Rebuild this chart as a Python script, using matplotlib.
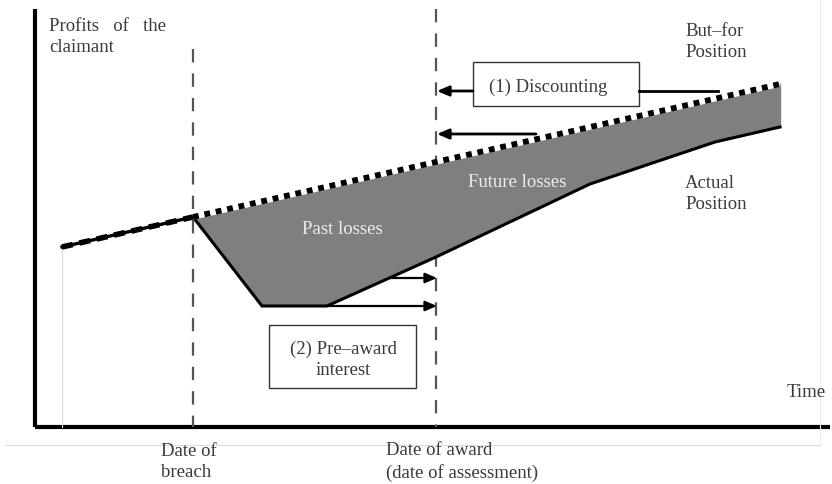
import matplotlib.pyplot as plt
import numpy as np

plt.rcParams['font.family'] = ['Liberation Serif', 'DejaVu Serif']

# diagram coordinates (pixel-like units, y grows downward)
but_for_x = [62, 193, 780]
but_for_y = [248, 218, 85]
actual_x = [193, 262, 327, 436, 590, 715, 780]
actual_y = [218, 307, 307, 258, 185, 143, 128]
breach_x = 193
award_x = 436

# arrows: (x_from, x_to, y)
discount_arrows = [(473, 437, 92), (536, 437, 135)]
interest_arrows = [(390, 437, 279), (327, 437, 307)]

txt = "#3a3a3a"
fs = 13.5
ls = 1.32
fig = plt.figure(figsize=(8.32, 4.85), dpi=100)
ax = fig.add_axes([0, 0, 1, 1])
ax.set_xlim(0, 832)
ax.set_ylim(485, 0)
ax.axis("off")

# axes of the diagram
ax.plot([35, 35], [10, 428], color="black", lw=3, solid_capstyle="butt")
ax.plot([35, 830], [428, 428], color="black", lw=3, solid_capstyle="butt")
ax.plot([62, 62], [250, 428], color="#d8d8d8", lw=0.8)
ax.plot([820, 820], [0, 445], color="#ececec", lw=0.8)
ax.plot([5, 820], [446, 446], color="#dcdcdc", lw=0.8)

# dashed date lines
ax.plot([breach_x, breach_x], [50, 428], color="#555555", lw=1.6, dashes=(6, 5))
ax.plot([award_x, award_x], [10, 428], color="#555555", lw=1.6, dashes=(6, 5))

# losses area
poly_x = np.r_[but_for_x[1:], actual_x[::-1]]
poly_y = np.r_[but_for_y[1:], actual_y[::-1]]
ax.fill(poly_x, poly_y, color="#7f7f7f", zorder=2)
ax.plot([actual_x[-1], actual_x[-1]], [but_for_y[-1], actual_y[-1]], color="#7f7f7f", lw=1, zorder=2)

# actual position
ax.plot(actual_x, actual_y, color="black", lw=2.2, zorder=3, solid_joinstyle="miter")

# but-for position
ax.plot(but_for_x[:2], but_for_y[:2], color="black", lw=2.4, zorder=4)
ax.plot(but_for_x[:2], but_for_y[:2], color="black", lw=4, dashes=(2, 1.2), zorder=4)
ax.plot(but_for_x[1:], but_for_y[1:], color="white", lw=4, zorder=4, solid_capstyle="butt")
ax.plot(but_for_x[1:], but_for_y[1:], color="black", lw=4.2, dashes=(1, 1), zorder=5)

# discounting box and arrows
ax.add_patch(plt.Rectangle((473, 63), 166, 44, fc="white", ec="#333333", lw=1, zorder=6))
ax.text(548, 87, "(1) Discounting", ha="center", va="center", fontsize=fs, color=txt, zorder=7)
ax.plot([639, 718], [92, 92], color="black", lw=2, zorder=6)
for x0, x1, y in discount_arrows:
    ax.annotate("", xy=(x1, y), xytext=(x0, y), zorder=6,
                arrowprops=dict(arrowstyle="-|>,head_length=0.7,head_width=0.3", color="black", lw=2,
                                shrinkA=0, shrinkB=0))
for x0, x1, y in interest_arrows:
    ax.annotate("", xy=(x1, y), xytext=(x0, y), zorder=6,
                arrowprops=dict(arrowstyle="-|>,head_length=0.7,head_width=0.3", color="black", lw=1.6,
                                shrinkA=0, shrinkB=0))

# pre-award interest box
ax.add_patch(plt.Rectangle((269, 326), 147, 63, fc="white", ec="#333333", lw=1, zorder=6))
ax.text(343, 360, "(2) Pre\u2013award\ninterest", ha="center", va="center", fontsize=fs, color=txt,
        linespacing=ls, zorder=7)

# labels
ax.text(342, 230, "Past losses", ha="center", va="center", fontsize=fs, color="#eeeeee", zorder=7)
ax.text(517, 183, "Future losses", ha="center", va="center", fontsize=fs, color="#eeeeee", zorder=7)
ax.text(49, 37, "Profits   of   the\nclaimant", ha="left", va="center", fontsize=fs, color=txt,
        linespacing=ls)
ax.text(685, 42, "But\u2013for\nPosition", ha="left", va="center", fontsize=fs, color=txt, linespacing=ls)
ax.text(685, 194, "Actual\nPosition", ha="left", va="center", fontsize=fs, color=txt, linespacing=ls)
ax.text(787, 393, "Time", ha="left", va="center", fontsize=fs, color=txt)
ax.text(161, 462, "Date of\nbreach", ha="left", va="center", fontsize=fs, color=txt, linespacing=ls)
ax.text(386, 462, "Date of award\n(date of assessment)", ha="left", va="center", fontsize=fs, color=txt,
        linespacing=ls)

plt.savefig("out.png", dpi=100)
